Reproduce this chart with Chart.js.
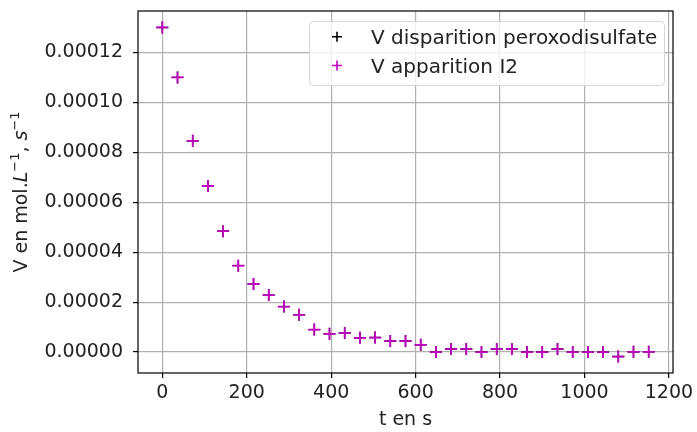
<!DOCTYPE html>
<html lang="fr">
<head>
<meta charset="UTF-8">
<title>Vitesses</title>
<script src="https://cdn.jsdelivr.net/npm/chart.js@4.4.0/dist/chart.umd.min.js"></script>
<style>
  html, body { margin: 0; padding: 0; background: #fff; }
</style>
</head>
<body>
<canvas id="vitesses" width="697" height="432"></canvas>
<script>
// temps en s
const times = [0, 36, 72, 108, 144, 180, 216, 252, 288, 324, 360, 396, 432, 468, 504, 540, 576,
               612, 648, 684, 720, 756, 792, 828, 864, 900, 936, 972, 1008, 1044, 1080, 1116, 1152];
// vitesse de disparition de S2O8(2-)
const vPeroxo = [0.000130, 0.000110, 0.0000846, 0.0000665, 0.0000484, 0.0000346, 0.0000273, 0.0000228,
                 0.0000182, 0.0000149, 0.0000090, 0.0000073, 0.0000076, 0.0000057, 0.0000058, 0.0000044,
                 0.0000044, 0.0000029, 0.0000000, 0.0000012, 0.0000012, 0.0000000, 0.0000012, 0.0000012,
                 0.0000000, 0.0000000, 0.0000012, 0.0000000, 0.0000000, 0.0000000, -0.0000018, 0.0000001, 0.0000001];
// vitesse d'apparition de I2
const vI2 = [0.000130, 0.000110, 0.0000846, 0.0000665, 0.0000484, 0.0000346, 0.0000273, 0.0000228,
             0.0000182, 0.0000149, 0.0000090, 0.0000073, 0.0000076, 0.0000057, 0.0000058, 0.0000044,
             0.0000044, 0.0000029, 0.0000000, 0.0000012, 0.0000012, 0.0000000, 0.0000012, 0.0000012,
             0.0000000, 0.0000000, 0.0000012, 0.0000000, 0.0000000, 0.0000000, -0.0000018, 0.0000001, 0.0000001];
const labels = ['V disparition peroxodisulfate', 'V apparition I2'];
const xTicks = [0, 200, 400, 600, 800, 1000, 1200];
const yTicks = [0, 0.00002, 0.00004, 0.00006, 0.00008, 0.0001, 0.00012];

const FONT = 'DejaVu Sans';

// marges comme matplotlib (5 %)
function limits(arrs) {
  const all = [].concat(...arrs);
  const lo = Math.min(...all), hi = Math.max(...all);
  const m = (hi - lo) * 0.05;
  return [lo - m, hi + m];
}
const [xmin, xmax] = limits([times]);
const [ymin, ymax] = limits([vPeroxo, vI2]);

const frame = {
  id: 'frame',
  afterDraw(chart) {
    const a = chart.chartArea, c = chart.ctx;
    c.save();
    c.strokeStyle = '#000';
    c.lineWidth = 1.2;
    c.strokeRect(a.left, a.top, a.right - a.left, a.bottom - a.top);
    c.restore();
  }
};

const legendBox = {
  id: 'legendBox',
  afterDatasetsDraw(chart) {
    const c = chart.ctx;
    c.save();
    c.beginPath();
    c.roundRect(309.5, 21.5, 355, 64, 4);
    c.fillStyle = 'rgba(255,255,255,0.8)';
    c.fill();
    c.strokeStyle = '#d6d6d6';
    c.lineWidth = 1;
    c.stroke();
    c.font = '20px "' + FONT + '"';
    c.textBaseline = 'alphabetic';
    chart.data.datasets.forEach((ds, i) => {
      const cy = 36.7 + i * 28.8;
      c.strokeStyle = ds.borderColor;
      c.lineWidth = 1.6;
      c.beginPath();
      c.moveTo(332, cy); c.lineTo(342, cy);
      c.moveTo(337, cy - 5); c.lineTo(337, cy + 5);
      c.stroke();
      c.fillStyle = '#222';
      c.fillText(ds.label, 371, cy + 7);
    });
    c.restore();
  }
};

// titre de l'axe y avec italiques et exposants
const yTitle = {
  id: 'yTitle',
  afterDraw(chart) {
    const c = chart.ctx;
    const a = chart.chartArea;
    const parts = [
      ['V en mol.', '19px', 'normal', 0],
      ['L', '19px', 'italic', 0],
      ['\u22121', '13px', 'normal', -8],
      [', ', '19px', 'normal', 0],
      ['s', '19px', 'italic', 0],
      ['\u22121', '13px', 'normal', -8]
    ];
    c.save();
    let total = 0;
    parts.forEach(p => {
      c.font = p[2] + ' ' + p[1] + ' "' + FONT + '"';
      p.push(c.measureText(p[0]).width);
      total += p[4];
    });
    c.translate(27, (a.top + a.bottom) / 2);
    c.rotate(-Math.PI / 2);
    c.fillStyle = '#222';
    c.textBaseline = 'alphabetic';
    let x = -total / 2;
    parts.forEach(p => {
      c.font = p[2] + ' ' + p[1] + ' "' + FONT + '"';
      c.fillText(p[0], x, p[3]);
      x += p[4];
    });
    c.restore();
  }
};

const ctx = document.getElementById('vitesses').getContext('2d');
const chart = new Chart(ctx, {
  type: 'scatter',
  data: {
    datasets: [
      {
        label: labels[0],
        data: times.map((t, i) => ({ x: t, y: vPeroxo[i] })),
        order: 1,
        pointStyle: 'cross',
        radius: 6,
        borderWidth: 1.4,
        borderColor: '#000000',
        backgroundColor: '#000000'
      },
      {
        label: labels[1],
        data: times.map((t, i) => ({ x: t, y: vI2[i] })),
        order: 0,
        pointStyle: 'cross',
        radius: 6,
        borderWidth: 1.8,
        borderColor: '#bf00bf',
        backgroundColor: '#bf00bf'
      }
    ]
  },
  options: {
    responsive: false,
    animation: false,
    devicePixelRatio: 1,
    layout: { padding: { top: 11, right: 24, left: 0, bottom: 0 } },
    plugins: {
      legend: { display: false },
      tooltip: { enabled: false }
    },
    scales: {
      x: {
        type: 'linear',
        min: xmin,
        max: xmax,
        afterFit: s => { s.height = 59; s.paddingLeft = 0; s.paddingRight = 0; },
        afterBuildTicks: s => { s.ticks = xTicks.map(v => ({ value: v })); },
        border: { display: false },
        grid: { color: '#b0b0b0', lineWidth: 1.2, tickColor: '#000', tickLength: 5 },
        ticks: {
          color: '#222',
          font: { family: FONT, size: 19 },
          padding: 4,
          maxRotation: 0,
          autoSkip: false,
          callback: v => String(v)
        },
        title: {
          display: true,
          text: 't en s',
          color: '#222',
          font: { family: FONT, size: 19 },
          padding: { top: 0, bottom: 1 }
        }
      },
      y: {
        type: 'linear',
        min: ymin,
        max: ymax,
        afterFit: s => { s.width = 138; s.paddingTop = 0; s.paddingBottom = 0; },
        afterBuildTicks: s => { s.ticks = yTicks.map(v => ({ value: v })); },
        border: { display: false },
        grid: { color: '#b0b0b0', lineWidth: 1.2, tickColor: '#000', tickLength: 5 },
        ticks: {
          color: '#222',
          font: { family: FONT, size: 19 },
          padding: 10,
          callback: v => v.toFixed(5)
        }
      }
    }
  },
  plugins: [frame, legendBox, yTitle]
});
</script>
</body>
</html>
